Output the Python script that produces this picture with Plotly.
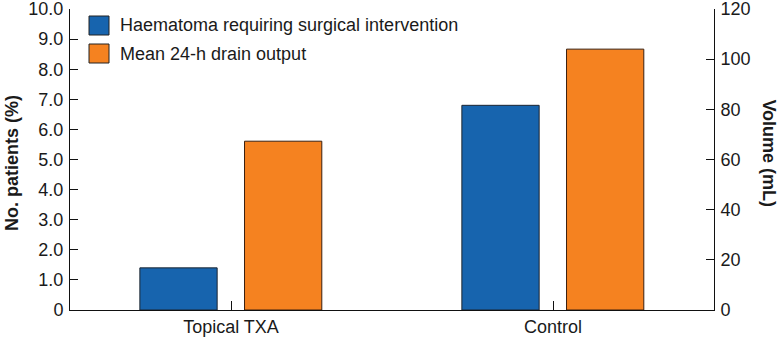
import plotly.graph_objects as go

categories = ["Topical TXA", "Control"]
series_names = ["Haematoma requiring surgical intervention", "Mean 24-h drain output"]
haematoma_pct = [1.4, 6.8]
drain_ml = [67.3, 104]
left_ticks = [0, 1, 2, 3, 4, 5, 6, 7, 8, 9, 10]
left_ticktext = ["0", "1.0", "2.0", "3.0", "4.0", "5.0", "6.0", "7.0", "8.0", "9.0", "10.0"]
right_ticks = [0, 20, 40, 60, 80, 100, 120]

BLUE = "#1764ae"
ORANGE = "#f58220"
FONT = "Liberation Sans, Arial, Helvetica, sans-serif"
TXT = "#1a1a1a"

fig = go.Figure()
fig.add_trace(go.Bar(
    x=categories, y=haematoma_pct, name=series_names[0],
    marker=dict(color=BLUE, line=dict(color="#1c2430", width=1)),
    offset=-0.283, width=0.24, yaxis="y", showlegend=False,
))
fig.add_trace(go.Bar(
    x=categories, y=drain_ml, name=series_names[1],
    marker=dict(color=ORANGE, line=dict(color="#3a2010", width=1)),
    offset=0.042, width=0.24, yaxis="y2", showlegend=False,
))

fig.update_layout(
    width=780, height=342,
    margin=dict(l=70, r=66, t=9, b=32, autoexpand=False),
    paper_bgcolor="white", plot_bgcolor="white",
    barmode="overlay",
    font=dict(family=FONT, size=18, color=TXT),
    xaxis=dict(
        type="category", range=[-0.5, 1.5], automargin=False,
        showline=True, linecolor="#111", linewidth=1,
        ticks="inside", ticklen=9, tickcolor="#111", tickwidth=1,
        showgrid=False, zeroline=False,
        tickfont=dict(size=18, color=TXT),
    ),
    yaxis=dict(
        range=[0, 10], tickvals=left_ticks, ticktext=left_ticktext, automargin=False,
        showline=True, linecolor="#111", linewidth=1,
        ticks="inside", ticklen=8, tickcolor="#111", tickwidth=1,
        showgrid=False, zeroline=False, ticklabeloverflow="allow",
        ticklabelstandoff=2,
        tickfont=dict(size=18, color=TXT),
    ),
    yaxis2=dict(
        range=[0, 120], tickvals=right_ticks, automargin=False,
        overlaying="y", side="right", anchor="x",
        showline=True, linecolor="#111", linewidth=1,
        ticks="inside", ticklen=8, tickcolor="#111", tickwidth=1,
        showgrid=False, zeroline=False, ticklabeloverflow="allow",
        ticklabelstandoff=2,
        tickfont=dict(size=18, color=TXT),
    ),
)

# axis titles
fig.add_annotation(text="<b>No. patients (%)</b>", xref="paper", yref="paper",
                   x=-0.091, y=0.49, textangle=-90, showarrow=False,
                   xanchor="center", yanchor="middle", font=dict(size=18, color=TXT))
fig.add_annotation(text="<b>Volume (mL)</b>", xref="paper", yref="paper",
                   x=1.084, y=0.52, textangle=90, showarrow=False,
                   xanchor="center", yanchor="middle", font=dict(size=18, color=TXT))

# custom legend
plot_w, plot_h = 644, 301
def px_x(px):
    return (px - 70) / plot_w
def px_y(py):
    return (310 - py) / plot_h

legend_rows = [(series_names[0], BLUE, 16, 35), (series_names[1], ORANGE, 44, 63)]
for name, col, top, bot in legend_rows:
    fig.add_shape(type="rect", xref="paper", yref="paper",
                  x0=px_x(89), x1=px_x(109), y0=px_y(bot), y1=px_y(top),
                  fillcolor=col, line=dict(color="#222", width=1))
    fig.add_annotation(text=name, xref="paper", yref="paper",
                       x=px_x(118), y=px_y((top + bot) / 2), showarrow=False,
                       xanchor="left", yanchor="middle", font=dict(size=18, color=TXT))

fig.write_html("out.html")
